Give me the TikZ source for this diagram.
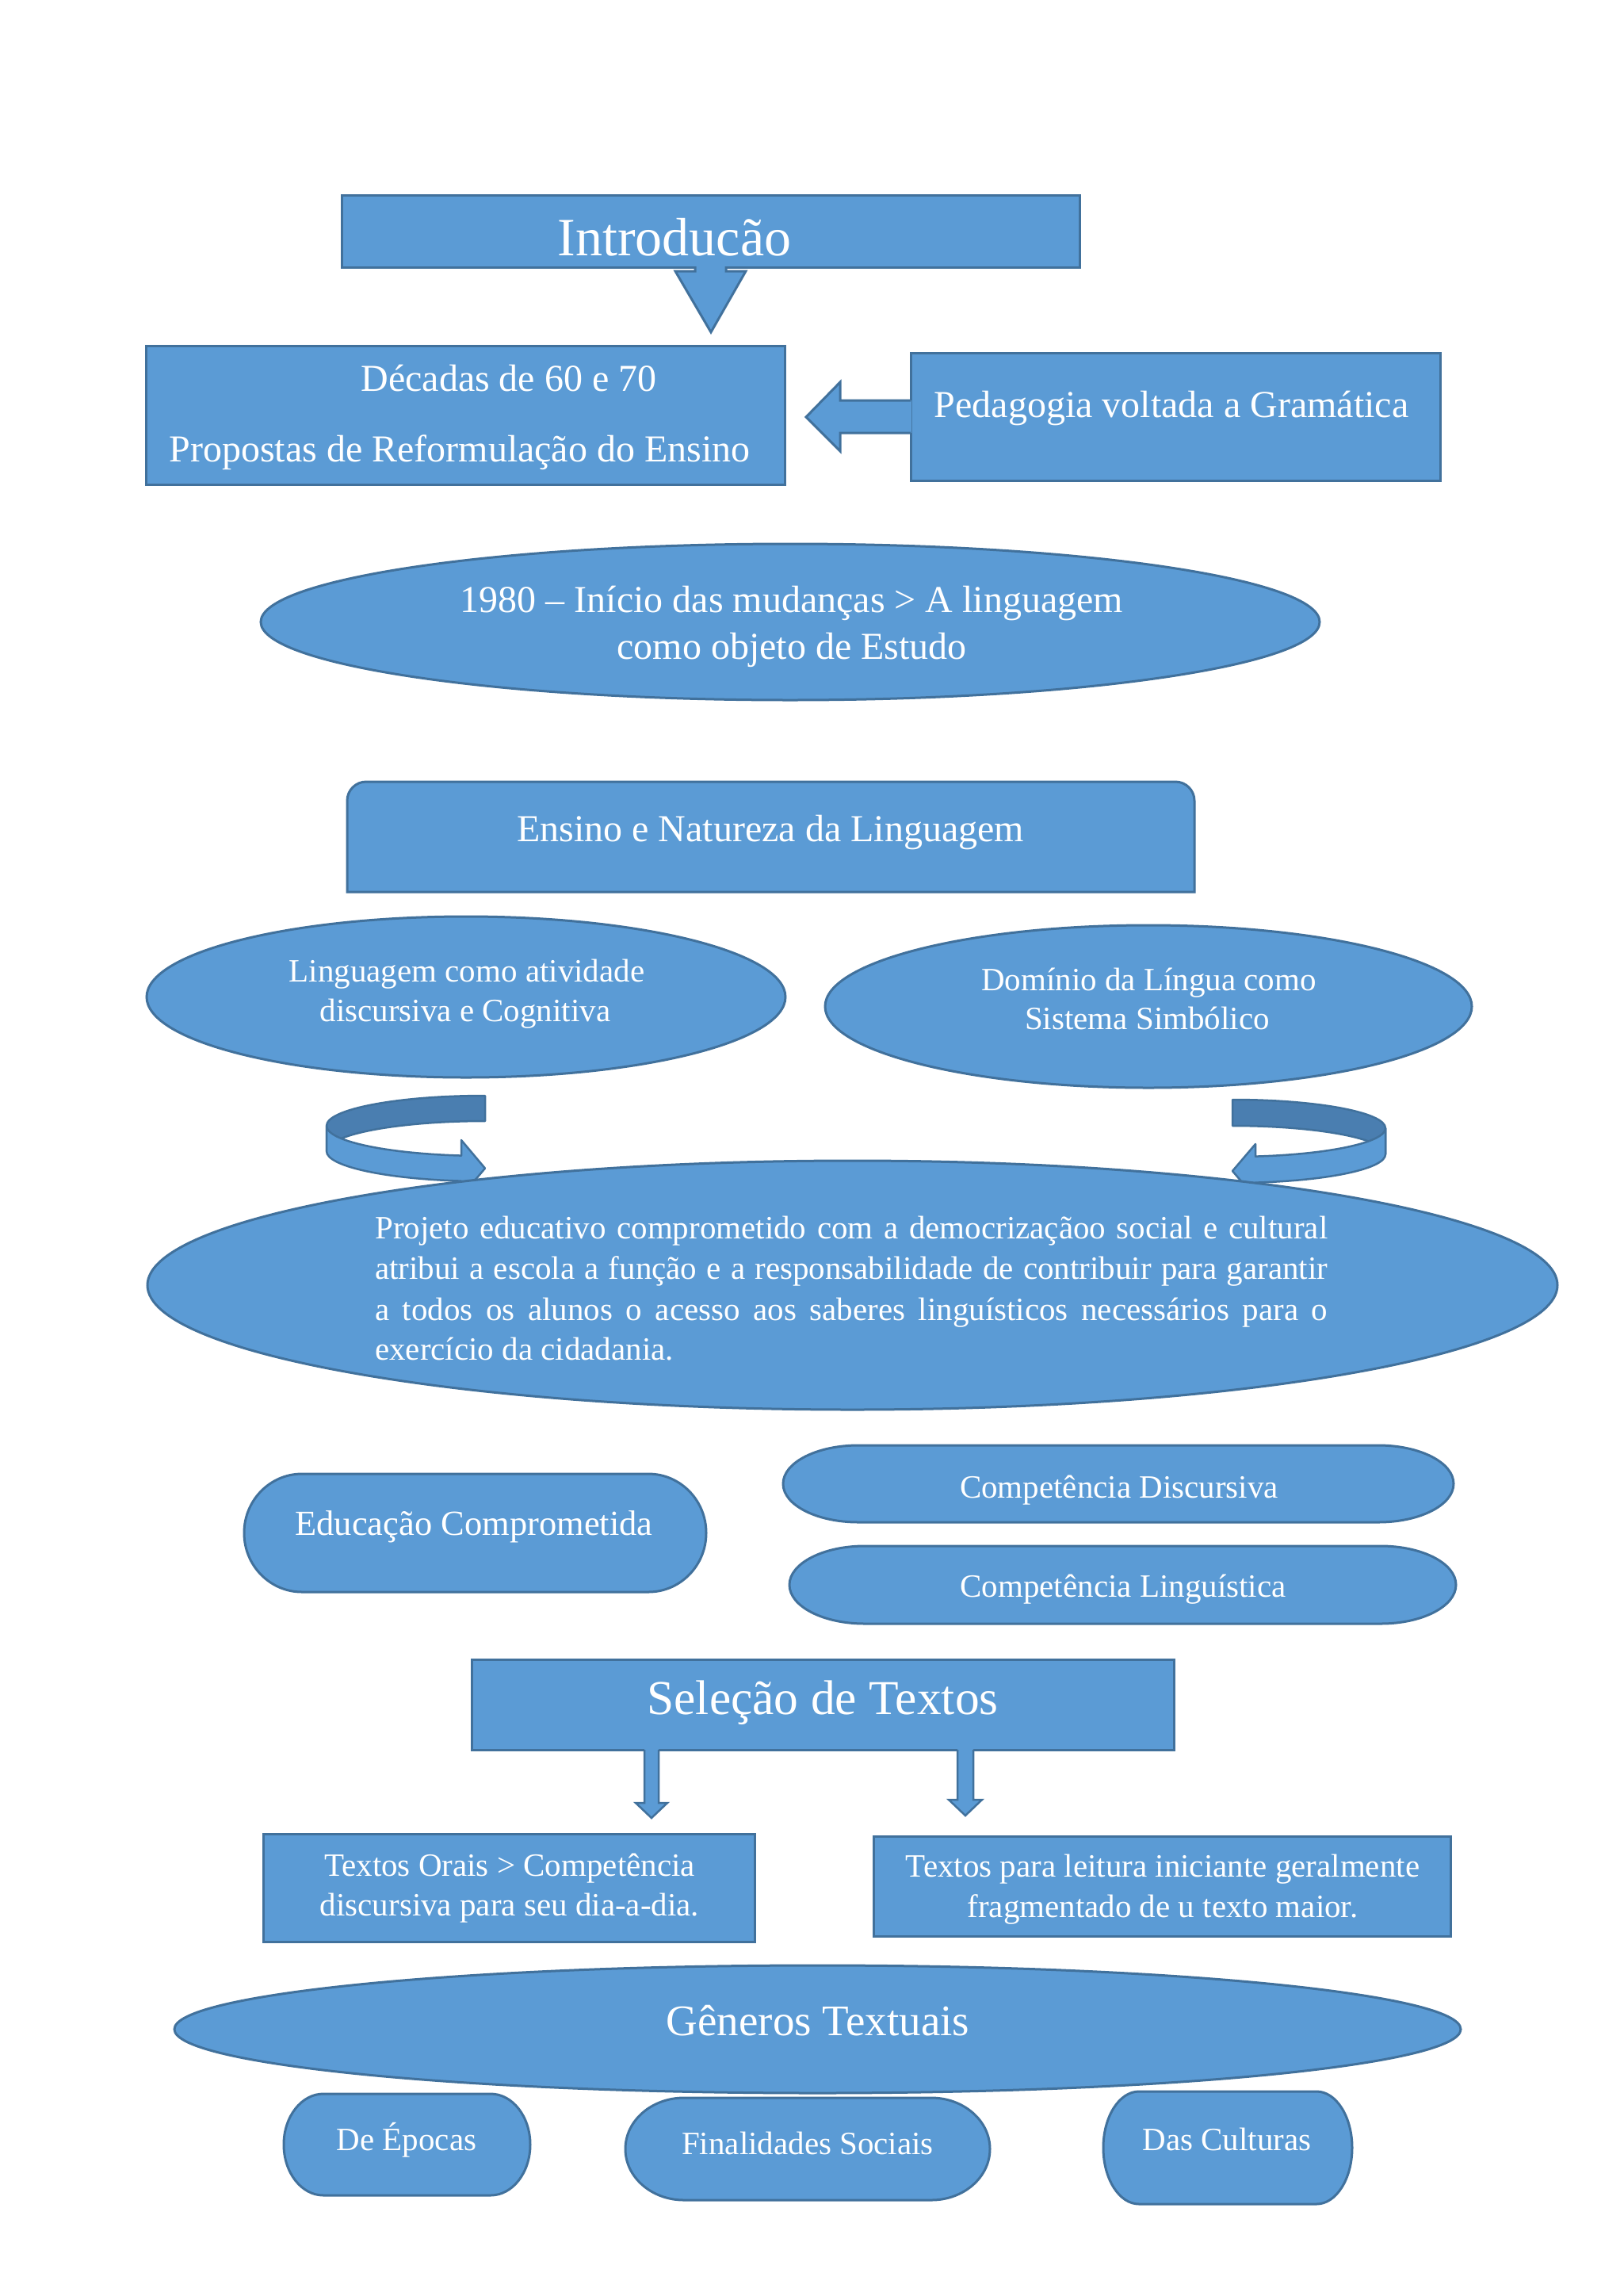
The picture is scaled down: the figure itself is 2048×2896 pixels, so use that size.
\documentclass[tikz,border=0pt]{standalone}
\usepackage{fontspec}
\setmainfont{Liberation Serif}
\usetikzlibrary{shapes.geometric}
\definecolor{fillc}{HTML}{5B9BD5}
\definecolor{edgec}{HTML}{41719C}
\definecolor{darkc}{HTML}{4A7EB0}
\newcommand\fsz[2]{\fontsize{#1}{#2}\selectfont}
% oval box with elliptic corners: x1 y1 x2 y2 rx ry
\newcommand\ovalpath[6]{%
  \path[blk] ({#3-#5},#2) arc[start angle=90,end angle=0,x radius=#5pt,y radius=#6pt]
    -- (#3,{#4-#6}) arc[start angle=0,end angle=-90,x radius=#5pt,y radius=#6pt]
    -- ({#1+#5},#4) arc[start angle=270,end angle=180,x radius=#5pt,y radius=#6pt]
    -- (#1,{#2+#6}) arc[start angle=180,end angle=90,x radius=#5pt,y radius=#6pt] -- cycle;}
\begin{document}
\begin{tikzpicture}[x=1pt,y=-1pt,
  blk/.style={fill=fillc,draw=edgec,line width=3pt,line join=miter},
  box/.style={blk,rectangle,inner sep=0pt,outer sep=0pt},
  oval/.style={blk,ellipse,inner sep=0pt,outer sep=0pt},
  arrline/.style={draw=edgec,line width=3pt,line join=miter},
  rib/.style={draw=edgec,line width=2.5pt,line join=round},
  lbl/.style={text=white,inner sep=0pt,anchor=base},
  fA/.style={font=\fsz{41}{50}},
  fB/.style={font=\fsz{48}{59}},
  fIntro/.style={font=\fsz{68}{80}},
  fSel/.style={font=\fsz{61.5}{72}},
  fGen/.style={font=\fsz{55}{66}},
  fEdu/.style={font=\fsz{44.5}{54}}]
\useasboundingbox (0,0) rectangle (2048,2896);
\fill[white] (0,0) rectangle (2048,2896);

% ---------- Introducao ----------
\node[box,minimum width=931pt,minimum height=91pt] (intro) at (896.5,291.5) {};
\node[lbl,fIntro] (introT) at (851,322) {Introducão};
\fill[fillc,shift={(intro.south)}] (-19.5,-3) -- (-19.5,5) -- (-44.5,5) -- (0.5,82) -- (44.5,5) -- (19.5,5) -- (19.5,-3) -- cycle;
\draw[arrline,shift={(intro.south)}] (-19.5,-1) -- (-19.5,5) -- (-44.5,5) -- (0.5,82) -- (44.5,5) -- (19.5,5) -- (19.5,-1);

% ---------- Decadas ----------
\node[box,minimum width=806pt,minimum height=175pt] (decadas) at (587,523.5) {};
\node[lbl,fB] (decT1) at (642,493) {Décadas de 60 e 70};
\node[lbl,fB] (decT2) at (580,582) {Propostas de Reformulação do Ensino};

% ---------- Pedagogia ----------
\node[box,minimum width=668pt,minimum height=161pt] (pedag) at (1483,525.5) {};
\fill[fillc,shift={(pedag.west)}] (1,-20.5) -- (-89,-20.5) -- (-89,-43.5) -- (-132,0.5) -- (-89,43.5) -- (-89,20.5) -- (1,20.5) -- cycle;
\draw[arrline,shift={(pedag.west)}] (0,-20.5) -- (-89,-20.5) -- (-89,-43.5) -- (-132,0.5) -- (-89,43.5) -- (-89,20.5) -- (0,20.5);
\node[lbl,fB] (pedT) at (1478,526) {Pedagogia voltada a Gramática};

% ---------- 1980 ----------
\node[oval,minimum width=1336pt,minimum height=197pt] (e1980) at (997,784.5) {};
\node[lbl,fB] (e1980T1) at (999,772) {1980 – Início das mudanças > A linguagem};
\node[lbl,fB] (e1980T2) at (999,831) {como objeto de Estudo};

% ---------- Ensino e Natureza ----------
\path[blk] (438,1125) -- (438,1010) arc[start angle=180,end angle=90,radius=24pt]
  -- (1483,986) arc[start angle=90,end angle=0,radius=24pt] -- (1507,1125) -- cycle;
\node[lbl,fB] (ensino) at (972,1061) {Ensino e Natureza da Linguagem};

% ---------- two ellipses ----------
\node[oval,minimum width=806pt,minimum height=203pt] (ling) at (588,1257.5) {};
\node[lbl,fA] (lingT1) at (589,1238) {Linguagem como atividade};
\node[lbl,fA] (lingT2) at (587,1288) {discursiva e Cognitiva};
\node[oval,minimum width=816pt,minimum height=205pt] (dominio) at (1449,1269.5) {};
\node[lbl,fA] (domT1) at (1449.5,1249) {Domínio da Língua como};
\node[lbl,fA] (domT2) at (1447.5,1298) {Sistema Simbólico};

% ---------- ribbon arrows ----------
\path[rib,fill=darkc] (612,1382) arc[start angle=90,end angle=180,x radius=200pt,y radius=38pt]
  -- (412,1452) arc[start angle=180,end angle=90,x radius=200pt,y radius=38pt] -- cycle;
\path[rib,fill=fillc] (412,1420) arc[start angle=180,end angle=261.37,x radius=200pt,y radius=38pt]
  -- (582,1438) -- (612,1473.6) -- (582,1509) -- (582,1489.6)
  arc[start angle=261.37,end angle=180,x radius=200pt,y radius=38pt] -- cycle;
\path[rib,fill=darkc] (1555,1387) arc[start angle=90,end angle=0,x radius=193pt,y radius=36pt]
  -- (1748,1456) arc[start angle=0,end angle=90,x radius=193pt,y radius=36pt] -- cycle;
\path[rib,fill=fillc] (1748,1423) arc[start angle=0,end angle=-81.36,x radius=193pt,y radius=36pt]
  -- (1584,1443) -- (1555,1477) -- (1584,1511) -- (1584,1491.6)
  arc[start angle=-81.36,end angle=0,x radius=193pt,y radius=36pt] -- cycle;

% ---------- Projeto ----------
\node[oval,minimum width=1779pt,minimum height=314pt] (projeto) at (1075.5,1621) {};
\node[lbl,fA,anchor=base west] (pj1) at (473,1562) {\makebox[1202pt][s]{Projeto educativo comprometido com a democrizaçãoo social e cultural}};
\node[lbl,fA,anchor=base west] (pj2) at (473,1613) {\makebox[1202pt][s]{atribui a escola a função e a responsabilidade de contribuir para garantir}};
\node[lbl,fA,anchor=base west] (pj3) at (473,1665) {\makebox[1202pt][s]{a todos os alunos o acesso aos saberes linguísticos necessários para o}};
\node[lbl,fA,anchor=base west] (pj4) at (473,1715) {exercício da cidadania.};

% ---------- Educacao / Competencias ----------
\ovalpath{308}{1859}{891}{2008}{73}{74.5}
\node[lbl,fEdu] (edu) at (598,1936) {Educação Comprometida};
\ovalpath{988}{1823}{1834}{1920}{95}{48.5}
\node[lbl,fA] (compD) at (1412,1889) {Competência Discursiva};
\ovalpath{996}{1950}{1837}{2048}{95}{49}
\node[lbl,fA] (compL) at (1417,2014) {Competência Linguística};

% ---------- Selecao ----------
\node[box,minimum width=886pt,minimum height=114pt] (selecao) at (1038,2150) {};
\node[lbl,fSel] (selT) at (1038,2162) {Seleção de Textos};
\fill[fillc,shift={(selecao.south)}] (-225,-2) -- (-225,67) -- (-236,67) -- (-216,86) -- (-196,67) -- (-207,67) -- (-207,-2) -- cycle;
\draw[arrline,line width=2.5pt,shift={(selecao.south)}] (-225,0) -- (-225,67) -- (-236,67) -- (-216,86) -- (-196,67) -- (-207,67) -- (-207,0);
\fill[fillc,shift={(selecao.south)}] (170,-2) -- (170,63) -- (159,63) -- (180,83) -- (201,63) -- (190,63) -- (190,-2) -- cycle;
\draw[arrline,line width=2.5pt,shift={(selecao.south)}] (170,0) -- (170,63) -- (159,63) -- (180,83) -- (201,63) -- (190,63) -- (190,0);

% ---------- Textos ----------
\node[box,minimum width=620pt,minimum height=136pt] (orais) at (642,2381) {};
\node[lbl,fA] (oraisT1) at (643,2366) {Textos Orais > Competência};
\node[lbl,fA] (oraisT2) at (643,2416) {discursiva para seu dia-a-dia.};
\node[box,minimum width=728pt,minimum height=126pt] (leitura) at (1466,2379) {};
\node[lbl,fA] (leitT1) at (1467,2367) {Textos para leitura iniciante geralmente};
\node[lbl,fA] (leitT2) at (1467,2418) {fragmentado de u texto maior.};

% ---------- Generos ----------
\node[oval,minimum width=1623pt,minimum height=161pt] (generos) at (1031.5,2559.5) {};
\node[lbl,fGen] (genT) at (1032,2567) {Gêneros Textuais};

\ovalpath{358}{2641}{669}{2769}{50}{64}
\node[lbl,fA] (epocas) at (513,2712) {De Épocas};
\ovalpath{789}{2646}{1249}{2775}{74}{64.5}
\node[lbl,fA] (finalidades) at (1019,2717) {Finalidades Sociais};
\ovalpath{1392}{2638}{1706}{2780}{45}{71}
\node[lbl,fA] (culturas) at (1548,2712) {Das Culturas};
\end{tikzpicture}
\end{document}
